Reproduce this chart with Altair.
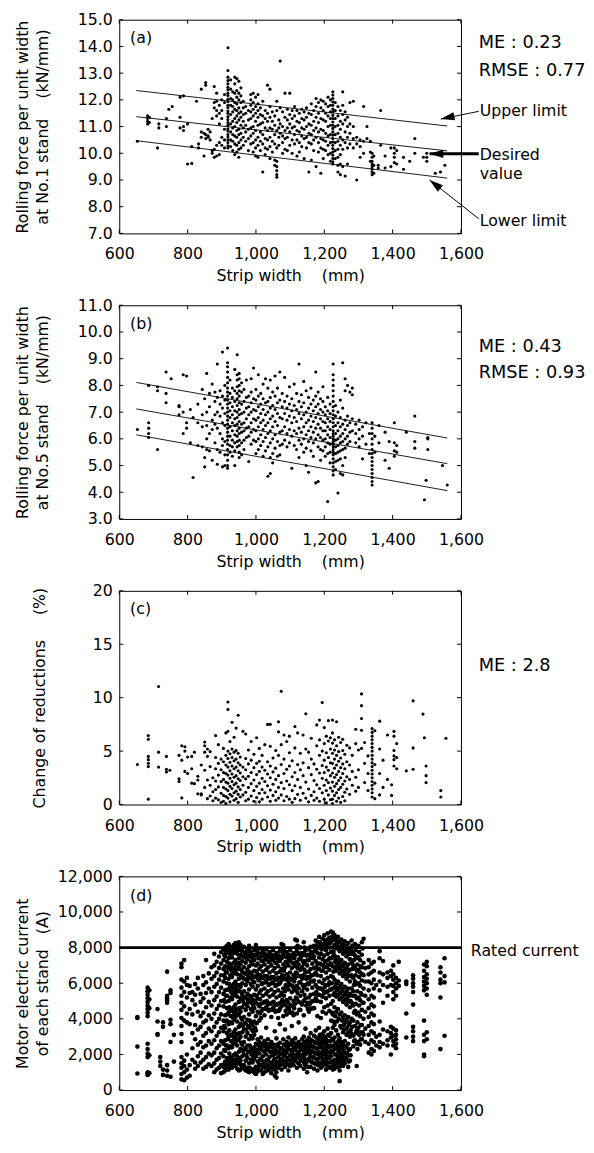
import altair as alt
import pandas as pd

FONT = "DejaVu Sans"
NB = "\u00a0"
W, H = 347, 217

X_TICKS = [600, 800, 1000, 1200, 1400, 1600]
A_TICKS = [7, 8, 9, 10, 11, 12, 13, 14, 15]
B_TICKS = [3, 4, 5, 6, 7, 8, 9, 10, 11]
C_TICKS = [0, 5, 10, 15, 20]
D_TICKS = [0, 2000, 4000, 6000, 8000, 10000, 12000]

LINE_X = [650, 1560]
A_UPPER = [12.35, 11.02]
A_DESIRED = [11.37, 10.09]
A_LOWER = [10.47, 9.07]
B_UPPER = [8.11, 6.03]
B_DESIRED = [7.12, 5.07]
B_LOWER = [6.15, 4.06]
RATED = 8000

# (strip width mm, [values read at that width])
A_COLS = [
    (653, [10.45]), (683, [11.4, 11.3, 11.2, 11.1]), (688, [11.35, 11.15]),
    (712, [10.2]), (716, [11.1, 10.95]), (738, [11.0, 11.3]), (745, [11.65]),
    (755, [11.75]), (778, [12.1, 11.35, 10.95]), (788, [12.15, 11.0, 10.85]),
    (800, [9.6, 11.1]), (812, [9.62, 10.25]), (826, [11.95]), (832, [10.35, 10.2]),
    (840, [12.4, 10.8, 10.6]), (848, [9.9, 10.75]), (853, [12.65, 12.55, 10.7, 10.55]),
    (860, [10.65, 10.6, 10.9]), (866, [10.5, 10.8]), (872, [11.3, 10.1, 10.0]),
    (878, [12.5, 11.9, 11.7, 10.15, 9.85]), (885, [12.25, 11.95, 11.6, 11.4, 10.3, 9.9]),
    (893, [11.8, 11.1, 11.5, 10.4, 9.95]), (900, [12.0, 11.6, 11.3, 10.6, 10.3]),
    (908, [12.2, 11.9, 10.9, 10.5, 10.2]),
    (918, [13.95, 13.1, 12.85, 12.72, 12.6, 12.47, 12.38, 12.25, 12.16, 12.02, 11.93,
           11.8, 11.71, 11.58, 11.5, 11.37, 11.26, 11.15, 11.05, 10.92, 10.83, 10.7,
           10.61, 10.5, 10.4, 10.28, 10.2]),
    (926, [12.75, 12.4, 12.05, 11.8, 11.45, 11.1, 10.8, 10.5, 10.25]),
    (932, [12.3, 12.0, 11.75, 11.55, 11.2, 10.95, 10.7, 10.45, 10.1]),
    (938, [12.85, 12.6, 12.25, 11.9, 11.65, 11.3, 11.0, 10.65, 10.35, 9.95]),
    (944, [12.8, 12.35, 12.1, 11.85, 11.6, 11.4, 11.15, 10.85, 10.6, 10.3, 10.05]),
    (950, [12.7, 12.25, 12.0, 11.7, 11.5, 11.25, 10.9, 10.7, 10.4, 10.15, 9.85]),
    (956, [12.45, 12.15, 11.9, 11.55, 11.35, 11.05, 10.75, 10.5, 10.2]),
    (963, [11.95, 11.7, 11.45, 11.2, 10.95, 10.6, 10.3]),
    (970, [11.75, 11.5, 11.05, 10.8, 10.45]),
    (978, [11.6, 11.25, 10.9, 10.55, 10.1]),
    (985, [12.2, 12.0, 11.8, 11.55, 11.3, 10.95, 10.65, 10.35]),
    (992, [12.25, 11.9, 11.65, 11.4, 11.0, 10.75, 10.4, 10.05]),
    (999, [12.1, 11.75, 11.5, 11.2, 10.85, 10.5, 10.2, 9.9]),
    (1006, [12.2, 11.85, 11.6, 11.35, 11.05, 10.6, 10.3, 9.85]),
    (1013, [11.7, 11.45, 11.1, 10.8, 10.45, 10.1]),
    (1020, [11.95, 11.4, 11.15, 10.7, 10.35, 9.3]),
    (1027, [11.6, 11.3, 10.95, 10.55, 10.2, 9.95]),
    (1034, [12.55, 11.5, 11.2, 10.85, 10.5, 10.15]),
    (1041, [12.4, 11.75, 11.35, 10.95, 10.6, 10.25, 9.8]),
    (1048, [11.55, 11.2, 10.9, 10.45, 10.05]),
    (1055, [11.4, 11.05, 10.7, 10.35, 9.75, 9.55]),
    (1061, [11.95, 11.6, 10.85, 10.2, 9.7, 9.5, 9.35, 9.2, 9.1]),
    (1067, [11.25, 10.95, 10.6, 10.3]), (1071, [13.45, 11.7, 11.1, 10.75]),
    (1078, [11.55, 11.0, 10.65, 10.4, 10.0]), (1085, [12.25, 11.35, 10.85, 10.55, 10.15]),
    (1092, [11.65, 11.25, 10.95, 10.6, 10.1]), (1099, [12.25, 11.45, 11.1, 10.8, 10.3]),
    (1106, [11.6, 11.3, 10.95, 10.5, 10.0]), (1113, [11.75, 11.4, 11.0, 10.7, 10.35]),
    (1120, [11.6, 11.2, 10.85, 10.5, 9.9]), (1127, [11.5, 11.15, 10.8, 10.4, 10.05]),
    (1134, [11.65, 11.3, 10.95, 10.65, 10.25]), (1141, [11.55, 11.25, 10.9, 10.55, 9.8]),
    (1148, [11.7, 11.35, 11.0, 10.6, 10.2]), (1155, [11.5, 11.1, 10.75, 10.4, 9.3]),
    (1162, [11.85, 11.45, 11.05, 10.7, 10.35, 9.75]), (1169, [11.6, 11.2, 10.85, 10.5, 10.1]),
    (1176, [12.05, 11.75, 11.35, 10.95, 10.6, 9.5]),
    (1183, [11.9, 11.5, 11.15, 10.8, 10.4, 10.05]),
    (1190, [12.0, 11.7, 11.3, 10.9, 10.55, 10.2, 9.25]),
    (1197, [11.95, 11.6, 11.25, 10.85, 10.5, 10.15, 9.8]),
    (1204, [11.85, 11.5, 11.2, 10.75, 10.45, 10.1]),
    (1211, [12.1, 11.75, 11.4, 11.0, 10.65, 10.3, 9.95]),
    (1218, [12.0, 11.8, 11.55, 11.3, 11.05, 10.7, 10.4, 10.0, 9.7]),
    (1225, [12.3, 12.18, 12.05, 11.92, 11.8, 11.66, 11.55, 11.42, 11.3, 11.17, 11.05,
            10.93, 10.8, 10.68, 10.55, 10.42, 10.3, 10.18, 10.05, 9.93, 9.8, 9.68, 9.6]),
    (1232, [11.9, 11.6, 11.3, 11.0, 10.7, 10.4, 10.1, 9.8]),
    (1240, [11.75, 11.4, 11.05, 10.75, 10.45, 10.15, 9.85, 9.55, 9.3]),
    (1247, [11.6, 11.2, 10.9, 10.6, 10.3, 9.95, 9.6, 9.2]),
    (1254, [12.3, 11.8, 11.45, 11.1, 10.5, 10.15, 9.5]),
    (1261, [11.55, 11.25, 10.8, 10.4, 9.15]), (1268, [11.35, 11.0, 10.6, 10.2, 9.6]),
    (1275, [11.9, 11.1, 10.75, 10.35]), (1285, [11.95, 11.0, 10.55, 10.2]),
    (1295, [10.6, 10.35, 9.0]), (1305, [10.5, 10.25, 9.85]), (1315, [11.75, 10.45, 10.0]),
    (1325, [11.0, 10.55]), (1335, [10.45, 10.05, 9.7]),
    (1340, [10.0, 9.85, 9.7, 9.6, 9.5, 9.4, 9.3, 9.2]), (1345, [9.9, 9.55, 9.25]),
    (1358, [9.55, 9.45]), (1365, [11.6, 10.3]), (1378, [9.9, 9.45]), (1395, [10.2, 9.5]),
    (1405, [10.2, 10.0, 9.85, 9.65]), (1412, [10.1, 9.6]), (1432, [9.85, 9.4]),
    (1450, [9.7]), (1465, [10.55, 10.0]), (1490, [9.85]), (1500, [10.0, 9.85, 9.7]),
    (1525, [9.25]), (1540, [9.3]), (1553, [9.55]),
]

B_COLS = [
    (653, [6.35]), (686, [8.0, 6.6, 6.4, 6.2, 6.05]), (712, [7.95, 7.8, 5.6]),
    (737, [8.5, 7.35, 7.7]), (752, [8.25]), (775, [6.9, 7.2, 7.25]), (787, [8.4, 7.0, 6.2]),
    (797, [8.35, 6.4, 6.6]), (808, [7.1, 5.85]), (816, [4.55, 6.8]), (830, [6.6, 5.75, 7.3]),
    (843, [7.85, 6.9, 5.7, 6.45]), (850, [4.95, 5.3, 7.5]), (856, [8.45, 7.0, 6.5, 6.0, 5.6]),
    (864, [7.7, 7.2, 6.2, 5.55]), (872, [8.05, 6.7, 6.35, 5.2]),
    (880, [7.75, 7.4, 6.9, 6.55, 5.85]), (887, [8.8, 7.55, 7.0, 6.4, 5.6, 5.05]),
    (895, [7.8, 7.3, 6.85, 6.2, 5.5]), (902, [9.25, 7.6, 7.15, 6.6, 6.0, 5.75, 4.95]),
    (909, [8.0, 7.45, 6.95, 6.5, 5.9, 5.4, 5.0]),
    (917, [9.4, 8.85, 8.7, 8.5, 8.3, 8.1, 7.9, 7.75, 7.6, 7.45, 7.3, 7.15, 7.0, 6.85,
           6.7, 6.55, 6.4, 6.25, 6.1, 5.95, 5.8, 5.6, 5.4, 5.2, 5.0, 4.9]),
    (924, [8.2, 7.7, 7.35, 7.05, 6.8, 6.45, 6.1, 5.75, 5.5]),
    (931, [7.9, 7.55, 7.2, 6.9, 6.6, 6.3, 5.95, 5.7, 5.35]),
    (938, [8.6, 7.8, 7.4, 7.05, 6.75, 6.5, 6.15, 5.85, 5.55, 5.0]),
    (945, [9.15, 8.4, 8.2, 7.95, 7.7, 7.5, 7.25, 7.0, 6.8, 6.55, 6.3, 6.1, 5.9, 5.7]),
    (951, [8.45, 8.25, 8.0, 7.8, 7.6, 7.35, 7.1, 6.9, 6.65, 6.4, 6.2, 5.95, 5.75, 5.5, 5.3]),
    (958, [8.1, 7.75, 7.3, 6.95, 6.55, 6.25, 5.85, 5.4]),
    (965, [7.85, 7.4, 7.0, 6.6, 6.3, 5.95, 5.6]), (972, [8.2, 7.55, 7.15, 6.75, 6.4, 6.05]),
    (979, [7.6, 7.2, 6.9, 6.45, 6.1, 5.15]), (986, [8.25, 7.75, 7.35, 7.0, 6.6, 6.25, 5.8]),
    (993, [8.65, 7.5, 7.1, 6.75, 6.35, 5.95]), (1000, [7.85, 7.45, 7.05, 6.7, 6.3, 5.9, 5.45]),
    (1007, [8.4, 7.6, 7.2, 6.8, 6.45, 6.0, 5.6]), (1014, [7.7, 7.3, 6.95, 6.6, 6.15, 5.75]),
    (1021, [8.05, 7.5, 7.1, 6.7, 6.35, 5.9, 5.35]), (1028, [8.25, 7.35, 6.9, 6.5, 6.05, 5.55]),
    (1035, [7.9, 7.4, 7.0, 6.6, 6.2, 5.7, 4.6]), (1042, [8.2, 7.55, 7.15, 6.75, 6.3, 5.85, 5.3, 4.7]),
    (1049, [7.75, 7.25, 6.85, 6.45, 6.0, 5.45, 5.1]), (1056, [8.35, 7.6, 7.1, 6.65, 6.15, 5.65]),
    (1063, [7.9, 7.35, 6.95, 6.5, 5.9, 5.35]), (1070, [8.5, 7.45, 6.8, 6.25, 5.75, 5.4]),
    (1077, [7.7, 7.2, 6.75, 6.3, 5.8]), (1084, [8.3, 7.4, 6.95, 6.45, 5.95]),
    (1091, [7.6, 7.15, 6.7, 6.2, 5.7]), (1098, [7.95, 7.3, 6.85, 6.35, 5.85]),
    (1105, [7.5, 7.05, 6.6, 6.1, 4.9]), (1112, [8.05, 7.25, 6.8, 6.3, 5.75]),
    (1119, [7.7, 7.1, 6.65, 6.2, 5.6]), (1126, [8.8, 7.4, 6.95, 6.4, 5.95, 5.3]),
    (1133, [7.65, 7.2, 6.75, 6.25, 5.8]), (1140, [8.15, 7.35, 6.9, 6.45, 6.0, 5.5]),
    (1147, [7.8, 7.0, 6.6, 6.15, 5.65, 5.0]), (1154, [7.55, 7.15, 6.7, 6.3, 5.9, 4.75]),
    (1161, [7.9, 7.3, 6.85, 6.45, 6.05, 5.55]), (1168, [7.45, 7.05, 6.65, 6.25, 5.85, 5.35]),
    (1175, [8.5, 7.6, 7.2, 6.8, 6.4, 6.0, 4.35]), (1182, [7.75, 7.3, 6.95, 6.55, 6.15, 5.7, 4.4]),
    (1189, [7.5, 7.1, 6.75, 6.4, 6.05, 5.6, 5.2]), (1196, [7.95, 7.4, 7.0, 6.65, 6.3, 5.95, 5.55]),
    (1203, [7.2, 6.9, 6.6, 6.3, 6.0, 5.7, 5.35]),
    (1210, [7.55, 7.05, 6.75, 6.45, 6.15, 5.85, 5.45, 3.65]),
    (1217, [7.3, 6.95, 6.65, 6.35, 6.05, 5.8, 5.5, 5.1]),
    (1226, [8.8, 8.4, 8.2, 8.0, 7.8, 7.6, 7.4, 7.2, 7.05, 6.9, 6.75, 6.6, 6.45, 6.3, 6.2,
            6.1, 6.0, 5.9, 5.8, 5.7, 5.6, 5.5, 5.4, 5.25, 5.1, 4.95, 4.8, 4.65]),
    (1233, [7.25, 6.85, 6.5, 6.2, 5.95, 5.7, 5.45, 5.15, 4.85]),
    (1240, [7.0, 6.6, 6.3, 6.0, 5.75, 5.5, 5.2, 3.97]),
    (1247, [7.45, 6.8, 6.45, 6.1, 5.85, 5.55, 5.25, 4.7]),
    (1254, [8.85, 7.15, 6.55, 6.2, 5.9, 5.6, 5.0, 4.65]),
    (1261, [8.25, 7.8, 6.7, 6.35, 6.0, 5.65, 5.3]), (1268, [8.0, 6.85, 6.5, 6.1, 5.8]),
    (1275, [7.75, 6.6, 6.25, 5.9]), (1282, [7.9, 7.65, 6.75, 6.3]),
    (1292, [6.55, 6.2, 5.85]), (1302, [6.7, 6.35, 6.0, 5.7]), (1312, [6.45, 6.1, 5.25]),
    (1322, [6.6, 5.8]), (1332, [6.2, 5.45]),
    (1340, [6.6, 6.4, 6.2, 6.0, 5.8, 5.6, 5.45, 5.3, 5.15, 5.0, 4.85, 4.7, 4.55, 4.4, 4.27]),
    (1348, [6.1, 5.5]), (1360, [6.5, 5.85]), (1378, [6.25, 5.2]), (1390, [5.9, 4.9]),
    (1405, [6.6, 5.85, 5.55, 5.35]), (1412, [5.75, 5.5]), (1440, [6.25]),
    (1465, [6.85, 5.9, 5.65]), (1493, [3.72]), (1498, [4.45]), (1503, [6.05, 6.0, 5.6]),
    (1546, [5.0]), (1560, [4.27]),
]

C_COLS = [
    (653, [3.75]), (685, [6.45, 6.1, 4.5, 4.2, 3.85, 3.55, 0.5]), (715, [11.05, 4.9, 3.5]),
    (738, [4.5, 3.3, 3.05]), (748, [3.2]), (775, [4.6, 2.4, 2.15]), (783, [5.5, 4.15, 0.62]),
    (792, [5.4, 5.0, 3.1]), (800, [4.45, 2.9]), (812, [4.5, 3.35, 2.0]), (820, [4.9, 1.95]),
    (830, [2.65, 2.3, 1.0]), (840, [3.7, 1.0, 0.9]), (850, [5.85, 5.5, 4.9, 3.2, 1.6]),
    (858, [5.2, 4.5, 2.3, 0.55]), (866, [4.95, 3.55, 1.8, 0.8]), (874, [2.5, 1.2, 0.35]),
    (882, [6.45, 4.4, 3.35, 2.2, 1.4, 0.6]), (890, [5.6, 3.85, 2.75, 1.65, 0.45]),
    (898, [4.25, 3.25, 2.15, 1.05, 0.2]), (905, [5.25, 4.0, 3.0, 2.35, 1.6, 0.85, 0.3]),
    (912, [6.7, 4.6, 3.7, 2.9, 2.1, 1.45, 0.75, 0.1]),
    (918, [9.6, 8.9, 6.85, 5.0, 4.3, 3.5, 2.75, 2.0, 1.3, 0.6]),
    (924, [5.9, 4.75, 3.95, 3.15, 2.45, 1.7, 0.95, 0.25]),
    (930, [7.7, 5.2, 4.4, 3.6, 2.85, 2.15, 1.5, 0.8]),
    (936, [6.3, 4.9, 4.1, 3.35, 2.55, 1.85, 1.1, 0.4]),
    (942, [7.15, 5.05, 4.25, 3.5, 2.7, 2.0, 1.25, 0.55]),
    (948, [8.35, 4.8, 3.9, 3.15, 2.4, 1.65, 0.95, 0.2]),
    (954, [4.45, 3.7, 2.95, 2.25, 1.4, 0.7]), (962, [6.85, 3.5, 2.6, 1.8, 0.9]),
    (970, [6.6, 4.3, 3.25, 2.4, 1.15, 0.35]), (978, [5.1, 3.8, 2.65, 1.6, 0.5]),
    (986, [5.9, 4.15, 3.0, 1.95, 0.8]), (994, [4.7, 3.45, 2.3, 1.3, 0.3]),
    (1002, [6.25, 3.85, 2.8, 1.7, 0.65]), (1010, [5.25, 4.05, 3.1, 2.0, 1.05, 0.25]),
    (1018, [4.6, 3.5, 2.45, 1.4, 0.5]), (1026, [5.6, 3.2, 2.15, 1.1]),
    (1034, [7.5, 4.0, 2.85, 1.75, 0.7]), (1042, [7.5, 5.45, 3.6, 2.5, 1.35, 0.3]),
    (1050, [4.35, 3.05, 1.9, 0.85]), (1058, [5.05, 3.4, 2.35, 1.2, 0.4]),
    (1066, [6.8, 7.75, 4.6, 2.7, 1.6, 0.6]), (1074, [10.6, 5.6, 3.75, 2.05, 0.9]),
    (1082, [6.5, 4.25, 2.9, 1.5, 0.35]), (1090, [5.9, 3.3, 2.2, 0.75]),
    (1098, [6.4, 4.85, 3.6, 1.85, 0.5]), (1106, [4.1, 2.6, 1.3, 0.2]),
    (1114, [7.3, 5.3, 3.0, 1.75, 0.55]), (1122, [6.7, 3.75, 2.35, 0.95]),
    (1130, [4.8, 3.25, 1.6, 0.4]), (1138, [6.5, 3.9, 2.7, 1.05]),
    (1146, [8.5, 5.2, 2.1, 0.6]), (1154, [4.9, 3.45, 1.45, 0.25]),
    (1162, [6.2, 4.25, 2.8, 0.85]), (1170, [3.8, 2.25, 1.2, 0.4]),
    (1178, [7.45, 5.5, 3.3, 1.85, 0.6]), (1186, [7.9, 6.05, 4.6, 2.95, 1.5, 0.3]),
    (1194, [9.55, 5.0, 3.65, 2.45, 1.1]), (1200, [7.2, 5.7, 4.15, 3.0, 1.8, 0.5]),
    (1206, [6.4, 4.85, 3.5, 2.3, 1.3, 0.15]), (1212, [7.85, 5.95, 4.4, 3.2, 2.05, 0.9]),
    (1218, [6.25, 5.2, 3.9, 2.7, 1.55, 0.45]),
    (1224, [7.9, 6.7, 5.75, 4.8, 3.85, 2.95, 2.1, 1.25, 0.5, 0.1]),
    (1230, [6.05, 5.1, 4.25, 3.4, 2.55, 1.7, 0.85]),
    (1236, [7.75, 5.5, 4.6, 3.7, 2.8, 1.95, 1.1, 0.3]),
    (1242, [6.3, 4.95, 4.05, 3.1, 2.25, 1.4, 0.6]), (1248, [5.8, 4.35, 3.45, 2.5, 1.6, 0.2]),
    (1254, [6.1, 5.05, 3.8, 2.9, 1.9, 0.75]), (1260, [4.7, 3.35, 2.2, 1.15, 0.35]),
    (1266, [5.55, 4.0, 2.6, 1.45]), (1274, [5.3, 3.7, 2.35, 0.95]), (1282, [4.6, 3.1, 1.8]),
    (1292, [7.05, 5.7, 2.55, 1.25]), (1300, [5.1, 3.25, 1.6]),
    (1309, [10.35, 9.25, 8.05, 6.95, 5.25]), (1318, [5.8, 3.85, 2.05]), (1328, [4.55, 2.9, 1.3]),
    (1340, [7.1, 6.75, 6.4, 6.05, 5.7, 5.35, 5.0, 4.6, 4.25, 3.9, 3.55, 3.2, 2.85, 2.5,
            2.15, 1.8, 1.45, 1.1, 0.7]),
    (1348, [6.9, 3.75, 2.0, 0.55]), (1362, [7.8, 5.2, 2.9, 0.9]), (1372, [4.15, 1.6]),
    (1385, [6.5, 2.35]), (1397, [1.85, 0.85]), (1404, [6.85, 6.4, 5.05, 4.55, 4.2, 3.6]),
    (1412, [5.7, 4.4, 3.35]), (1440, [3.15]), (1460, [9.7, 5.3, 3.3]), (1489, [8.46]),
    (1493, [6.25]), (1498, [3.6, 2.7, 2.05]), (1541, [1.3, 0.7]), (1556, [6.2]),
]

D_COLS = [
    (653, [4100, 4050, 2440, 930]),
    (683, [5750, 5550, 5350, 5150, 4950, 4750, 4550, 4350, 4150, 2600, 2300, 2050, 1850, 1000, 900, 850]),
    (688, [5600, 5100, 4600, 1950, 950]), (712, [4550, 3850, 3150, 3100]),
    (720, [1850, 1600, 1350]), (728, [3800, 3550, 1150, 850]),
    (740, [6650, 5300, 5150, 5050, 4900, 1400, 1100, 800]),
    (750, [5600, 5450, 3950, 3700, 2700, 750]), (760, [3100, 1600]),
    (782, [7100, 6900, 6200, 5750, 5300, 4900, 4500, 4050, 3600, 3150, 2700, 1850, 1500, 1250, 900, 600]),
    (790, [7300, 6100, 5500, 4700, 3900, 1650, 1350, 1000, 550]),
    (798, [6300, 5900, 5200, 4300, 3800, 2000, 1150, 700]),
    (806, [5850, 5450, 4550, 3700, 1400, 800]), (814, [5500, 5050, 4250, 3200, 2350, 1700]),
    (822, [5950, 5350, 4800, 3650, 2850, 1550, 1200]),
    (830, [6300, 5700, 4400, 3400, 2550, 1900, 1350]),
    (838, [5400, 4950, 4150, 3550, 2700, 2100, 1550]),
    (846, [6400, 5900, 5150, 4350, 3800, 3050, 2400, 1700, 1200]),
    (854, [7300, 6050, 5450, 4650, 3900, 3200, 2500, 1850, 1300]),
    (862, [6550, 5700, 4950, 4200, 3450, 2750, 2050, 1450]),
    (870, [6900, 6250, 5500, 4750, 4000, 3300, 2600, 1950, 1350]),
    (878, [7650, 7000, 6400, 5800, 5050, 4300, 3550, 2800, 2100, 1500, 1000]),
    (885, [7200, 6600, 5950, 5250, 4550, 3800, 3050, 2350, 1700, 1150]),
    (892, [7500, 6850, 6200, 5500, 4750, 4000, 3250, 2500, 1800, 1250]),
    (898, [7750, 7100, 6450, 5750, 5000, 4250, 3500, 2750, 2050, 1400, 950]),
    (905, [7900, 7300, 6800, 6100, 5400, 4700, 3900, 3300, 2600, 1900, 1300, 1000]),
    (910, [8000, 7500, 6950, 6300, 5600, 4950, 4200, 3500, 2800, 2200, 1600, 1100]),
    (915, [8100, 7700, 7200, 6600, 6000, 5300, 4600, 3900, 3200, 2500, 1800, 1200]),
    (920, [8200, 7850, 7400, 6850, 6250, 5650, 5000, 4350, 3700, 3000, 2350, 1700, 1150]),
    (925, [8050, 7600, 7050, 6450, 5850, 5200, 4500, 3800, 3100, 2450, 1850, 1300]),
    (930, [7950, 7450, 6900, 6350, 5750, 5100, 4450, 3750, 3050, 2400, 1750, 1250]),
    (935, [8150, 7700, 7150, 6550, 5950, 5300, 4650, 3950, 3250, 2600, 1950, 1350]),
    (940, [8250, 7800, 7300, 6700, 6100, 5450, 4800, 4100, 3400, 2700, 2050, 1400]),
    (945, [8100, 7650, 7100, 6500, 5900, 5250, 4550, 3850, 3150, 2500, 1900, 1200]),
    (950, [8300, 7900, 7400, 6850, 6250, 5600, 4950, 4250, 3550, 2850, 2150, 1500, 1100]),
    (955, [8150, 7600, 7050, 6450, 5800, 5150, 4400, 3700, 3000, 2300, 1650, 1150]),
    (960, [7800, 7250, 6650, 6000, 5350, 4650, 3950, 3250, 2550, 1900, 1300]),
    (965, [8050, 7500, 6900, 6250, 5550, 4850, 4100, 3400, 2700, 2000, 1400]),
    (970, [7700, 7150, 6550, 5900, 5200, 4500, 3750, 3000, 2300, 1650, 1100]),
    (975, [7900, 7350, 6750, 6100, 5400, 4700, 3950, 3200, 2500, 1800, 1250]),
    (980, [8100, 7550, 6950, 6300, 5650, 4950, 4250, 3550, 2850, 2150, 1500, 1000]),
    (985, [7750, 7200, 6600, 5950, 5250, 4550, 3800, 3050, 2350, 1700, 1150]),
    (990, [7600, 7050, 6450, 5800, 5100, 4400, 3650, 2900, 2200, 1550, 1050]),
    (995, [7850, 7300, 6700, 6050, 5350, 4600, 3850, 3100, 2400, 1750, 1200]),
    (1000, [8150, 7600, 7000, 6350, 5650, 4900, 4150, 3350, 2600, 1900, 1300, 900]),
    (1005, [7700, 7100, 6500, 5850, 5150, 4400, 2850, 2200, 1600, 1050]),
    (1010, [7950, 7400, 6800, 6150, 5450, 4700, 3900, 2700, 2050, 1450]),
    (1015, [7550, 6950, 6300, 5600, 4850, 4050, 2950, 2300, 1700, 1100]),
    (1020, [7800, 7250, 6650, 6000, 5300, 4550, 2500, 1900, 1300, 900]),
    (1025, [7650, 7050, 6400, 5700, 4950, 4200, 2750, 2150, 1550, 1000]),
    (1030, [7900, 7350, 6750, 6100, 5400, 4650, 3500, 2600, 2000, 1400]),
    (1035, [7500, 6900, 6250, 5550, 4800, 2850, 2250, 1650, 1100]),
    (1040, [7750, 7200, 6600, 5950, 5250, 4500, 2450, 1850, 1250]),
    (1045, [7600, 7000, 6350, 5650, 4900, 4100, 2700, 2100, 1500, 950]),
    (1050, [7850, 7300, 6700, 6050, 5350, 4600, 2550, 1950, 1350]),
    (1055, [7450, 6850, 6200, 5500, 4750, 3300, 2350, 1750, 1150, 800]),
    (1060, [7700, 7150, 6550, 5900, 5200, 4450, 2900, 2200, 1600, 1000, 700]),
    (1065, [7550, 6950, 6300, 5600, 4850, 4050, 2450, 1850, 1250]),
    (1070, [7800, 7250, 6650, 6000, 5300, 4550, 3700, 2650, 2000, 1400]),
    (1075, [8200, 7400, 6800, 6150, 5450, 4700, 2350, 1750, 1150]),
    (1080, [8150, 7650, 7050, 6400, 5700, 4950, 4150, 2850, 2250, 1650]),
    (1085, [7500, 6900, 6250, 5550, 4800, 3400, 2500, 1900, 1300]),
    (1090, [7750, 7150, 6500, 5800, 5050, 4250, 2700, 2100, 1500]),
    (1095, [7600, 7000, 6350, 5650, 4900, 2950, 2300, 1700, 1100]),
    (1100, [7850, 7250, 6600, 5900, 5150, 4350, 2550, 1950, 1350]),
    (1105, [7450, 6850, 6200, 5500, 4750, 3600, 2800, 2150, 1550]),
    (1110, [7700, 7100, 6450, 5750, 5000, 4200, 2650, 2000, 1400]),
    (1115, [8450, 7550, 6950, 6300, 5600, 4850, 2900, 2250, 1650]),
    (1120, [8400, 7800, 7200, 6550, 5850, 5100, 4300, 2450, 1850, 1250]),
    (1125, [7650, 7050, 6400, 5700, 4950, 3800, 2700, 2100, 1500]),
    (1130, [8000, 7400, 6750, 6050, 5300, 4500, 2550, 1950, 1350]),
    (1135, [7550, 6900, 6250, 5550, 4800, 2850, 2250, 1650]),
    (1140, [8300, 7700, 7100, 6450, 5750, 5000, 4200, 3000, 2400, 1800, 1200]),
    (1145, [7850, 7250, 6600, 5900, 5150, 3450, 2600, 2000, 1400]),
    (1150, [7600, 7000, 6350, 5650, 4900, 2800, 2200, 1600, 1000]),
    (1155, [7900, 7300, 6650, 5950, 5200, 4400, 2950, 2350, 1750]),
    (1160, [8050, 7450, 6800, 6100, 5350, 4550, 3200, 2500, 1900, 1300]),
    (1165, [7700, 7100, 6450, 5750, 5000, 2750, 2150, 1550]),
    (1170, [8100, 7500, 6850, 6150, 5400, 4600, 3050, 2400, 1800, 1200]),
    (1175, [8400, 7850, 7250, 6600, 5900, 5150, 3350, 2650, 2050, 1450]),
    (1180, [8300, 7700, 7100, 6450, 5750, 5000, 4150, 2900, 2300, 1700, 1100]),
    (1185, [8600, 8050, 7450, 6800, 6100, 5350, 3500, 2750, 2100, 1500]),
    (1190, [8200, 7650, 7050, 6400, 5700, 4950, 4050, 3000, 2400, 1800, 1250]),
    (1195, [8500, 7950, 7350, 6700, 6000, 5250, 4400, 3150, 2550, 1950, 1350]),
    (1200, [8700, 8150, 7550, 6900, 6200, 5450, 4650, 3300, 2650, 2050, 1450]),
    (1205, [8400, 7850, 7250, 6600, 5900, 5150, 4300, 2850, 2250, 1650, 1150]),
    (1210, [8800, 8250, 7650, 7000, 6300, 5550, 4750, 3450, 2750, 2150, 1550]),
    (1215, [8550, 8000, 7400, 6750, 6050, 5300, 4450, 3050, 2400, 1800, 1250]),
    (1220, [8900, 8350, 7750, 7100, 6400, 5650, 4850, 3900, 3200, 2500, 1900, 1300]),
    (1225, [8850, 8450, 8000, 7500, 6950, 6350, 5700, 5000, 4250, 3500, 2800, 2150, 1550, 1150]),
    (1230, [8700, 8150, 7550, 6900, 6200, 5450, 4650, 3650, 2950, 2300, 1700, 1200]),
    (1235, [8500, 7950, 7350, 6700, 6000, 5250, 4400, 3350, 2650, 2000, 1400]),
    (1240, [8600, 8050, 7450, 6800, 6100, 5350, 4550, 3100, 2450, 1850, 1300]),
    (1245, [8350, 7800, 7200, 6550, 5850, 5100, 4250, 2900, 2250, 1650, 1100, 500]),
    (1250, [8450, 7900, 7300, 6650, 5950, 5200, 4350, 3500, 2700, 2050, 1450]),
    (1255, [8200, 7650, 7050, 6400, 5700, 4950, 4100, 3250, 2550, 1900, 1350]),
    (1260, [8350, 7750, 7150, 6500, 5800, 5050, 4200, 3400, 2750, 2100, 1500]),
    (1265, [8100, 7500, 6900, 6250, 5550, 4800, 3950, 3100, 2400, 1750]),
    (1270, [8250, 7650, 7050, 6400, 5700, 4950, 4100, 3250, 2600, 1950, 1300]),
    (1275, [7950, 7350, 6750, 6100, 5400, 4650, 3800, 3000, 2300, 1650]),
    (1280, [8400, 7800, 7150, 6450, 5700, 4900, 4000, 3150]),
    (1285, [7650, 7000, 6300, 5550, 4750, 3900, 3050, 2450]),
    (1290, [8200, 7550, 6850, 6100, 5300, 4450, 3600, 2800]),
    (1295, [7400, 6700, 5950, 5150, 4250, 3350, 2600, 1350]),
    (1300, [8100, 7450, 6750, 6000, 5200, 4350, 3500, 2700]),
    (1305, [7300, 6600, 5850, 5050, 4150, 3250, 2550]),
    (1310, [8300, 7600, 6900, 6150, 5350, 4500, 3650, 2850]),
    (1315, [8500, 7150, 6450, 5700, 4900, 4000, 3100]),
    (1320, [6850, 6100, 5300, 4400, 3450, 2700]),
    (1330, [7300, 6900, 6500, 6100, 5600, 5100, 4600, 4100, 3600, 3100, 2600, 2100]),
    (1338, [7100, 6600, 6000, 5300, 4800, 4300, 3800, 3300, 2800, 2300, 2000]),
    (1345, [7200, 6700, 6200, 5700, 5200, 4700, 4200, 3700, 3200, 2700, 2200]),
    (1352, [5900, 3000, 2500]), (1362, [7800, 7400, 6600, 6100, 5600, 3850, 3100, 2700, 2400]),
    (1372, [7250, 6500, 5900, 4900, 3400, 2600]), (1385, [6600, 6300, 5800, 5300, 3300, 2800, 2500]),
    (1395, [6700, 6400, 5900, 3550, 3200, 2950, 2000]),
    (1402, [7000, 6500, 6200, 5850, 5500, 5100, 3450, 3050, 2750, 2500]),
    (1410, [6300, 6000, 5700, 5300, 3350, 3100, 2850, 2600, 2350]), (1418, [7200, 6150, 5850]),
    (1440, [6100, 5950, 4300, 2950]),
    (1460, [6450, 6250, 6000, 5800, 5500, 4800, 3550, 3300, 3000, 2750]),
    (1492, [7050, 6700, 6350, 6100, 5850, 5600, 3900, 3100, 2750, 2000, 1900]),
    (1500, [7200, 6950, 6500, 6250, 6000, 5700, 5350, 3250, 2850]),
    (1540, [6900, 6600, 6200, 6000, 5200, 2300]), (1552, [7400, 6400, 6050, 3050]),
]

# further points (d)
D_FILL = [
    (907, [7600, 6450, 5050, 3600, 2250, 1450]), (912, [7750, 6650, 5300, 3850, 2500, 1350]),
    (917, [7950, 6900, 5650, 4250, 2850, 1500]), (922, [8100, 7100, 5950, 4650, 3350, 2050, 1400]),
    (927, [7800, 6750, 5500, 4150, 2750, 1550]), (932, [7700, 6600, 5400, 4100, 2700, 1500]),
    (937, [7900, 6850, 5600, 4300, 2900, 1650]), (942, [8050, 7000, 5750, 4450, 3050, 1700]),
    (947, [7850, 6800, 5550, 4200, 2800, 1550]), (952, [8100, 7150, 5900, 4600, 3200, 1800]),
    (957, [7850, 6750, 5500, 4050, 2650, 1400]), (962, [7500, 6300, 5000, 3600, 2200]),
    (967, [7750, 6550, 5200, 3750, 2350, 1200]), (972, [7400, 6200, 4850, 3400, 1950]),
    (977, [7600, 6400, 5050, 3600, 2150, 1050]), (982, [7800, 6600, 5300, 3900, 2500, 1250]),
    (987, [7450, 6250, 4900, 3400, 2000]), (992, [7300, 6100, 4750, 3300, 1850]),
    (997, [7550, 6350, 5000, 3500, 2050, 950]), (1002, [7850, 6650, 5300, 3750, 2250, 1100]),
    (1007, [7400, 6200, 4800, 2500, 1300]), (1012, [7650, 6450, 5100, 4300, 2350, 1750]),
    (1017, [7250, 5950, 4450, 2600, 1400]), (1022, [7500, 6300, 4900, 2200, 1600]),
    (1027, [7350, 6050, 4550, 2450, 1250]), (1032, [7600, 6400, 5000, 2300, 1700]),
    (1037, [7200, 5900, 4450, 2550, 1350]), (1042, [7450, 6250, 4850, 2150, 1550]),
    (1047, [7300, 6000, 4500, 2400, 1200]), (1052, [7550, 6350, 4950, 2250, 1650]),
    (1057, [7150, 5850, 4400, 2050, 1450]), (1062, [7400, 6200, 4800, 2550, 1300]),
    (1067, [7250, 5950, 4450, 2150, 1550]), (1072, [7500, 6300, 4900, 2350, 1700]),
    (1077, [7800, 6450, 5050, 2050, 1450]), (1082, [7850, 6700, 5300, 2550, 1950]),
    (1087, [7200, 5900, 4450, 2200, 1600]), (1092, [7450, 6150, 4650, 2400, 1800]),
    (1097, [7300, 6000, 4550, 2600, 1400]), (1102, [7550, 6250, 4750, 2250, 1650]),
    (1107, [7150, 5850, 4350, 2500, 1850]), (1112, [7400, 6100, 4600, 2350, 1700]),
    (1117, [8000, 6600, 5200, 2600, 1950]), (1122, [8100, 6850, 5450, 2150, 1550]),
    (1127, [7350, 6050, 4500, 2400, 1800]), (1132, [7700, 6400, 4900, 2250, 1650]),
    (1137, [7250, 5900, 2550, 1950]), (1142, [8000, 6750, 5350, 2700, 2100, 1500]),
    (1147, [7550, 6250, 4750, 2300, 1700]), (1152, [7300, 6000, 4550, 2500, 1300]),
    (1157, [7600, 6300, 4800, 2650, 2050]), (1162, [7750, 6450, 4950, 2800, 2200, 1600]),
    (1167, [7400, 6100, 4600, 2450, 1850]), (1172, [7800, 6500, 5000, 2700, 2100, 1500]),
    (1177, [8100, 6900, 5500, 2950, 2350, 1750]), (1182, [8000, 6800, 5350, 2600, 2000, 1400]),
    (1187, [8300, 7100, 5700, 3100, 2450, 1800]), (1192, [7900, 6700, 5300, 2700, 2100, 1550]),
    (1197, [8200, 7000, 5600, 2850, 2250, 1650]), (1202, [8400, 7200, 5800, 3000, 2350, 1750]),
    (1207, [8100, 6900, 5500, 2550, 1950, 1400]), (1212, [8500, 7300, 5900, 3100, 2450, 1850]),
    (1217, [8250, 7050, 5650, 2750, 2100, 1550]), (1222, [8600, 7400, 6000, 4350, 2850, 2200, 1600]),
    (1227, [8650, 7750, 6650, 5350, 3850, 2450, 1350]), (1232, [8400, 7200, 5800, 4150, 2600, 2000, 1450]),
    (1237, [8200, 7000, 5600, 3850, 2300, 1700]), (1242, [8300, 7100, 5700, 4000, 2750, 2150, 1550]),
    (1247, [8050, 6850, 5450, 3600, 2550, 1950, 1350]), (1252, [8150, 6950, 5550, 3900, 2400, 1750]),
    (1257, [7900, 6700, 5300, 3650, 2200, 1600]), (1262, [8050, 6800, 5400, 3800, 2450, 1800]),
    (1267, [7800, 6550, 5150, 3500, 2050]), (1272, [7950, 6700, 5300, 3650, 2250, 1600]),
    (1277, [7650, 6400, 5000, 3350, 1950]), (1282, [8100, 6800, 5300, 3550]),
    (1287, [7300, 5900, 4350, 2750]), (1292, [7850, 6450, 4850, 3200]),
    (1297, [7050, 5550, 3800, 2300]), (1302, [7750, 6350, 4750, 3100]),
    (1307, [6950, 5450, 3650, 2850]), (1312, [7950, 6500, 4900, 3250]),
]

ARROW_PATH = "M0,0L-0.6,2L0.6,2Z"
A_ARROWS = pd.DataFrame({
    "x": [1652, 1652, 1652], "y": [11.57, 9.98, 7.55],
    "x2": [1541, 1508, 1508], "y2": [11.28, 9.98, 9.0],
    "angle": [258, 270, 308], "sw": [1, 3, 1],
})

XS = alt.Scale(domain=[600, 1600], nice=False, zero=False)


def flatten(cols):
    return pd.DataFrame([{"w": w, "v": v} for w, vs in cols for v in vs])


def note(text, x, y, size=16):
    return alt.Chart(pd.DataFrame({"t": [text]})).mark_text(
        align="left", baseline="alphabetic", font=FONT, fontSize=size, color="black"
    ).encode(x=alt.value(x), y=alt.value(y), text="t:N")


def panel(cols, ydom, yticks, yfmt, ytitle, tpad, notes, extra=None, psize=10):
    ys = alt.Scale(domain=ydom, nice=False, zero=False)
    xaxis = alt.Axis(values=X_TICKS, format=",.0f", title="Strip width" + NB * 4 + "(mm)",
                     labelPadding=13, titlePadding=6)
    yaxis = alt.Axis(values=yticks, format=yfmt, title=ytitle, labelPadding=7,
                     titlePadding=tpad, minExtent=43, maxExtent=43, titleLineHeight=20)
    pts = alt.Chart(flatten(cols)).mark_circle(size=psize, color="black", opacity=1).encode(
        x=alt.X("w:Q", scale=XS, axis=xaxis), y=alt.Y("v:Q", scale=ys, axis=yaxis))
    xt = pd.DataFrame({"t": X_TICKS})
    yt = pd.DataFrame({"t": yticks})
    tx = alt.X("t:Q", scale=XS, axis=None)
    ty = alt.Y("t:Q", scale=ys, axis=None)
    ticks = [
        alt.Chart(xt).mark_rule(color="black").encode(x=tx, y=alt.value(0), y2=alt.value(4)),
        alt.Chart(xt).mark_rule(color="black").encode(x=tx, y=alt.value(H - 4), y2=alt.value(H)),
        alt.Chart(yt).mark_rule(color="black").encode(y=ty, x=alt.value(0), x2=alt.value(4)),
        alt.Chart(yt).mark_rule(color="black").encode(y=ty, x=alt.value(W - 4), x2=alt.value(W)),
    ]
    layers = [pts] + ticks + (extra(ys) if extra else []) + [note(*n) for n in notes]
    return alt.layer(*layers).resolve_axis(x="independent", y="independent").properties(
        width=W, height=H)


def limit_lines(up, de, lo):
    def build(ys):
        df = pd.DataFrame({
            "w": LINE_X * 3, "v": up + de + lo,
            "s": ["upper"] * 2 + ["desired"] * 2 + ["lower"] * 2})
        return [alt.Chart(df).mark_line(color="black", strokeWidth=0.9).encode(
            x=alt.X("w:Q", scale=XS, axis=None), y=alt.Y("v:Q", scale=ys, axis=None),
            detail="s:N")]
    return build


def a_extra(ys):
    layers = limit_lines(A_UPPER, A_DESIRED, A_LOWER)(ys)
    layers.append(alt.Chart(A_ARROWS).mark_rule(color="black").encode(
        x=alt.X("x:Q", scale=XS, axis=None), y=alt.Y("y:Q", scale=ys, axis=None),
        x2="x2:Q", y2="y2:Q", strokeWidth=alt.StrokeWidth("sw:Q", scale=None)))
    layers.append(alt.Chart(A_ARROWS).mark_point(
        shape=ARROW_PATH, filled=True, size=196, color="black", opacity=1).encode(
        x=alt.X("x2:Q", scale=XS, axis=None), y=alt.Y("y2:Q", scale=ys, axis=None),
        angle=alt.Angle("angle:Q", scale=None)))
    return layers


def d_extra(ys):
    return [alt.Chart(pd.DataFrame({"v": [RATED]})).mark_rule(color="black", strokeWidth=3).encode(
        y=alt.Y("v:Q", scale=ys, axis=None))]


pa = panel(A_COLS, [7, 15], A_TICKS, ".1f",
           ["Rolling force per unit width", "at No.1 stand" + NB * 4 + "(kN/mm)"], 27,
           [("(a)", 11, 24), ("ME : 0.23", 365, 29, 18), ("RMSE : 0.77", 365, 57, 18),
            ("Upper limit", 366, 98), ("Desired", 366, 142), ("value", 366, 162),
            ("Lower limit", 366, 209)], a_extra)
pb = panel(B_COLS, [3, 11], B_TICKS, ".1f",
           ["Rolling force per unit width", "at No.5 stand" + NB * 4 + "(kN/mm)"], 27,
           [("(b)", 11, 24), ("ME : 0.43", 365, 47, 18), ("RMSE : 0.93", 365, 74, 18)],
           limit_lines(B_UPPER, B_DESIRED, B_LOWER))
pc = panel(C_COLS, [0, 20], C_TICKS, "d",
           "Change of reductions" + NB * 5 + "(%)", 30,
           [("(c)", 11, 24), ("ME : 2.8", 365, 81, 18)])
pd_ = panel(D_COLS + D_FILL, [0, 12000], D_TICKS, ",.0f",
            ["Motor electric current", "of each stand" + NB * 3 + "(A)"], 27,
            [("(d)", 11, 25), ("Rated current", 357, 81)], d_extra, psize=22)

chart = alt.vconcat(pa, pb, pc, pd_, spacing=73, bounds="flush").properties(
    padding={"left": 6, "top": -6, "right": 0, "bottom": 2}
).configure_view(stroke="black", strokeWidth=1).configure_axis(
    domain=False, ticks=False, tickSize=0, grid=False, labelFont=FONT, labelFontSize=16,
    labelColor="black", titleFont=FONT, titleFontSize=16, titleFontWeight="normal",
    titleColor="black", labelFlush=False, labelOverlap=False)

chart.save("out.html", embed_options={"renderer": "svg", "actions": False})
